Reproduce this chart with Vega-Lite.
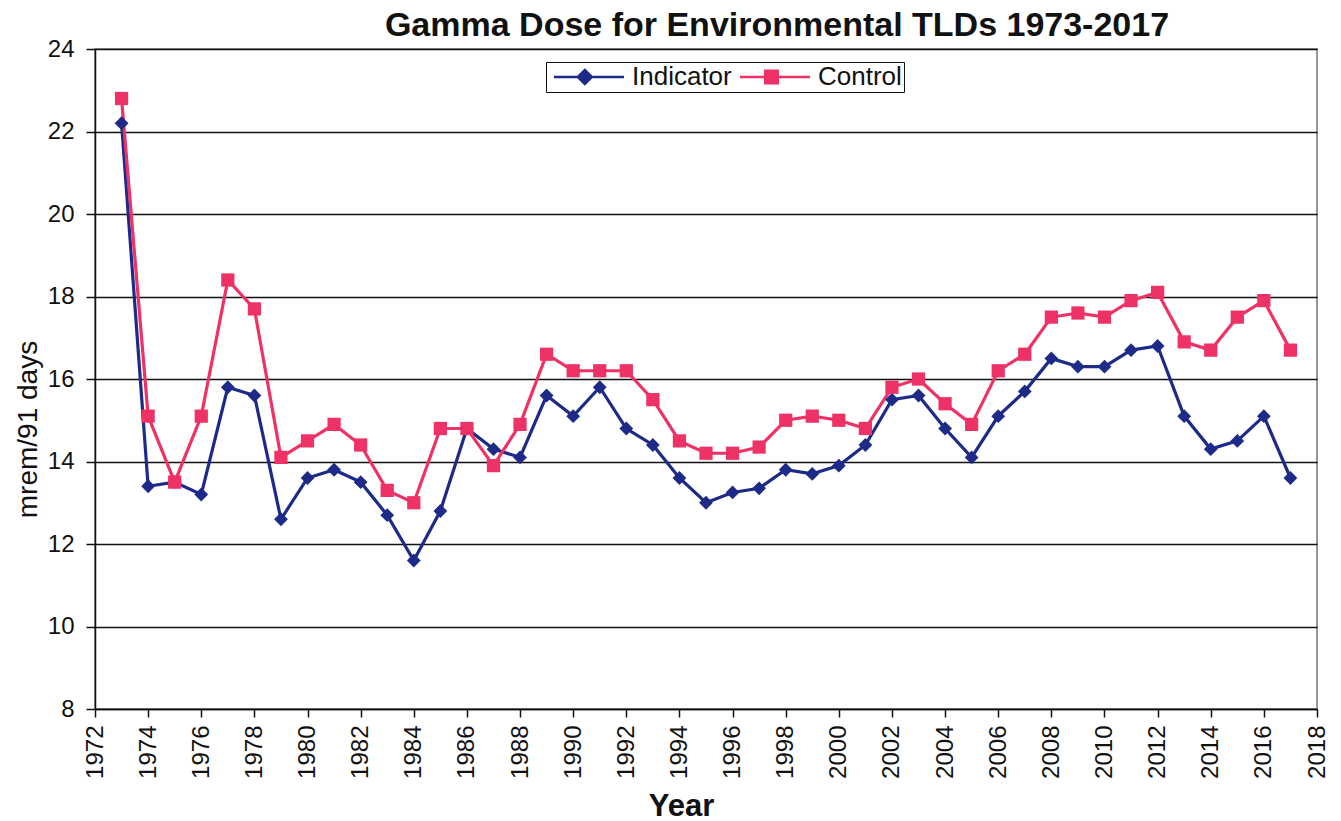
{
  "$schema": "https://vega.github.io/schema/vega-lite/v6.json",
  "width": 1222,
  "height": 660,
  "autosize": {"type": "none"},
  "padding": {"left": 95, "top": 49, "right": 24, "bottom": 112},
  "background": "white",
  "config": {
    "font": "Liberation Sans",
    "view": {"stroke": "#777777", "strokeWidth": 1.5}
  },
  "title": {
    "text": "Gamma Dose for Environmental TLDs 1973-2017",
    "fontSize": 34,
    "fontWeight": "bold",
    "font": "Liberation Sans",
    "color": "#111111",
    "anchor": "middle",
    "dx": 71,
    "offset": -6
  },
  "data": {
    "values": [
      {"year": 1973, "series": "Indicator", "value": 22.2},
      {"year": 1974, "series": "Indicator", "value": 13.4},
      {"year": 1975, "series": "Indicator", "value": 13.5},
      {"year": 1976, "series": "Indicator", "value": 13.2},
      {"year": 1977, "series": "Indicator", "value": 15.8},
      {"year": 1978, "series": "Indicator", "value": 15.6},
      {"year": 1979, "series": "Indicator", "value": 12.6},
      {"year": 1980, "series": "Indicator", "value": 13.6},
      {"year": 1981, "series": "Indicator", "value": 13.8},
      {"year": 1982, "series": "Indicator", "value": 13.5},
      {"year": 1983, "series": "Indicator", "value": 12.7},
      {"year": 1984, "series": "Indicator", "value": 11.6},
      {"year": 1985, "series": "Indicator", "value": 12.8},
      {"year": 1986, "series": "Indicator", "value": 14.8},
      {"year": 1987, "series": "Indicator", "value": 14.3},
      {"year": 1988, "series": "Indicator", "value": 14.1},
      {"year": 1989, "series": "Indicator", "value": 15.6},
      {"year": 1990, "series": "Indicator", "value": 15.1},
      {"year": 1991, "series": "Indicator", "value": 15.8},
      {"year": 1992, "series": "Indicator", "value": 14.8},
      {"year": 1993, "series": "Indicator", "value": 14.4},
      {"year": 1994, "series": "Indicator", "value": 13.6},
      {"year": 1995, "series": "Indicator", "value": 13.0},
      {"year": 1996, "series": "Indicator", "value": 13.25},
      {"year": 1997, "series": "Indicator", "value": 13.35},
      {"year": 1998, "series": "Indicator", "value": 13.8},
      {"year": 1999, "series": "Indicator", "value": 13.7},
      {"year": 2000, "series": "Indicator", "value": 13.9},
      {"year": 2001, "series": "Indicator", "value": 14.4},
      {"year": 2002, "series": "Indicator", "value": 15.5},
      {"year": 2003, "series": "Indicator", "value": 15.6},
      {"year": 2004, "series": "Indicator", "value": 14.8},
      {"year": 2005, "series": "Indicator", "value": 14.1},
      {"year": 2006, "series": "Indicator", "value": 15.1},
      {"year": 2007, "series": "Indicator", "value": 15.7},
      {"year": 2008, "series": "Indicator", "value": 16.5},
      {"year": 2009, "series": "Indicator", "value": 16.3},
      {"year": 2010, "series": "Indicator", "value": 16.3},
      {"year": 2011, "series": "Indicator", "value": 16.7},
      {"year": 2012, "series": "Indicator", "value": 16.8},
      {"year": 2013, "series": "Indicator", "value": 15.1},
      {"year": 2014, "series": "Indicator", "value": 14.3},
      {"year": 2015, "series": "Indicator", "value": 14.5},
      {"year": 2016, "series": "Indicator", "value": 15.1},
      {"year": 2017, "series": "Indicator", "value": 13.6},
      {"year": 1973, "series": "Control", "value": 22.8},
      {"year": 1974, "series": "Control", "value": 15.1},
      {"year": 1975, "series": "Control", "value": 13.5},
      {"year": 1976, "series": "Control", "value": 15.1},
      {"year": 1977, "series": "Control", "value": 18.4},
      {"year": 1978, "series": "Control", "value": 17.7},
      {"year": 1979, "series": "Control", "value": 14.1},
      {"year": 1980, "series": "Control", "value": 14.5},
      {"year": 1981, "series": "Control", "value": 14.9},
      {"year": 1982, "series": "Control", "value": 14.4},
      {"year": 1983, "series": "Control", "value": 13.3},
      {"year": 1984, "series": "Control", "value": 13.0},
      {"year": 1985, "series": "Control", "value": 14.8},
      {"year": 1986, "series": "Control", "value": 14.8},
      {"year": 1987, "series": "Control", "value": 13.9},
      {"year": 1988, "series": "Control", "value": 14.9},
      {"year": 1989, "series": "Control", "value": 16.6},
      {"year": 1990, "series": "Control", "value": 16.2},
      {"year": 1991, "series": "Control", "value": 16.2},
      {"year": 1992, "series": "Control", "value": 16.2},
      {"year": 1993, "series": "Control", "value": 15.5},
      {"year": 1994, "series": "Control", "value": 14.5},
      {"year": 1995, "series": "Control", "value": 14.2},
      {"year": 1996, "series": "Control", "value": 14.2},
      {"year": 1997, "series": "Control", "value": 14.35},
      {"year": 1998, "series": "Control", "value": 15.0},
      {"year": 1999, "series": "Control", "value": 15.1},
      {"year": 2000, "series": "Control", "value": 15.0},
      {"year": 2001, "series": "Control", "value": 14.8},
      {"year": 2002, "series": "Control", "value": 15.8},
      {"year": 2003, "series": "Control", "value": 16.0},
      {"year": 2004, "series": "Control", "value": 15.4},
      {"year": 2005, "series": "Control", "value": 14.9},
      {"year": 2006, "series": "Control", "value": 16.2},
      {"year": 2007, "series": "Control", "value": 16.6},
      {"year": 2008, "series": "Control", "value": 17.5},
      {"year": 2009, "series": "Control", "value": 17.6},
      {"year": 2010, "series": "Control", "value": 17.5},
      {"year": 2011, "series": "Control", "value": 17.9},
      {"year": 2012, "series": "Control", "value": 18.1},
      {"year": 2013, "series": "Control", "value": 16.9},
      {"year": 2014, "series": "Control", "value": 16.7},
      {"year": 2015, "series": "Control", "value": 17.5},
      {"year": 2016, "series": "Control", "value": 17.9},
      {"year": 2017, "series": "Control", "value": 16.7}
    ]
  },
  "encoding": {
    "x": {
      "field": "year",
      "type": "quantitative",
      "scale": {"domain": [1972, 2018], "nice": false, "zero": false},
      "axis": {
        "values": [1972,1974,1976,1978,1980,1982,1984,1986,1988,1990,1992,1994,1996,1998,2000,2002,2004,2006,2008,2010,2012,2014,2016,2018],
        "format": "d",
        "grid": false,
        "labelAngle": -90,
        "labelAlign": "right",
        "labelBaseline": "middle",
        "labelFontSize": 24,
        "labelColor": "#111111",
        "labelPadding": 8,
        "tickSize": 8,
        "tickColor": "#111111",
        "tickWidth": 1.5,
        "domainColor": "#111111",
        "domainWidth": 1.5,
        "title": "Year",
        "titleFontSize": 31,
        "titleFontWeight": "bold",
        "titleColor": "#111111",
        "titleX": 586,
        "titleY": 106,
        "titleAlign": "center",
        "titleBaseline": "alphabetic"
      }
    },
    "y": {
      "field": "value",
      "type": "quantitative",
      "scale": {"domain": [8, 24], "nice": false, "zero": false},
      "axis": {
        "values": [8,10,12,14,16,18,20,22,24],
        "grid": true,
        "gridColor": "#111111",
        "gridWidth": 1.5,
        "gridOpacity": 1,
        "labelFontSize": 24,
        "labelColor": "#111111",
        "labelPadding": 12,
        "tickSize": 9,
        "tickColor": "#111111",
        "tickWidth": 1.5,
        "domainColor": "#111111",
        "domainWidth": 1.5,
        "title": "mrem/91 days",
        "titleFontSize": 28,
        "titleFontWeight": "normal",
        "titleColor": "#111111",
        "titleAngle": -90,
        "titleX": -67,
        "titleY": 380,
        "titleAlign": "center",
        "titleBaseline": "middle"
      }
    }
  },
  "layer": [
    {
      "mark": {"type": "line", "strokeWidth": 3.2},
      "encoding": {
        "color": {
          "field": "series",
          "type": "nominal",
          "scale": {"domain": ["Indicator", "Control"], "range": ["#1d2a88", "#ef3266"]},
          "legend": {
            "title": null,
            "orient": "none",
            "legendX": 451,
            "legendY": 13,
            "direction": "horizontal",
            "strokeColor": "#111111",
            "fillColor": "white",
            "padding": 2,
            "columnPadding": 2,
            "labelFontSize": 26,
            "labelColor": "#111111",
            "labelOffset": 58,
            "symbolSize": 196,
            "symbolStrokeWidth": 2.5,
            "encode": {
              "symbols": {
                "update": {
                  "shape": {"signal": "datum.value === 'Indicator' ? 'M-1,0H9M3.4,-1L4.4,0L3.4,1L2.4,0Z' : 'M-1,0H9M2.6,-0.9H4.4V0.9H2.6Z'"},
                  "fill": {"signal": "datum.value === 'Indicator' ? '#1d2a88' : '#ef3266'"},
                  "stroke": {"signal": "datum.value === 'Indicator' ? '#1d2a88' : '#ef3266'"},
                  "strokeWidth": {"value": 2.5},
                  "fillOpacity": {"value": 1},
                  "strokeOpacity": {"value": 1}
                }
              }
            }
          }
        }
      }
    },
    {
      "transform": [{"filter": "datum.series === 'Indicator'"}],
      "mark": {"type": "point", "filled": true, "opacity": 1, "shape": "diamond", "size": 190, "color": "#1d2a88"}
    },
    {
      "transform": [{"filter": "datum.series === 'Control'"}],
      "mark": {"type": "point", "filled": true, "opacity": 1, "shape": "square", "size": 175, "color": "#ef3266"}
    }
  ]
}
